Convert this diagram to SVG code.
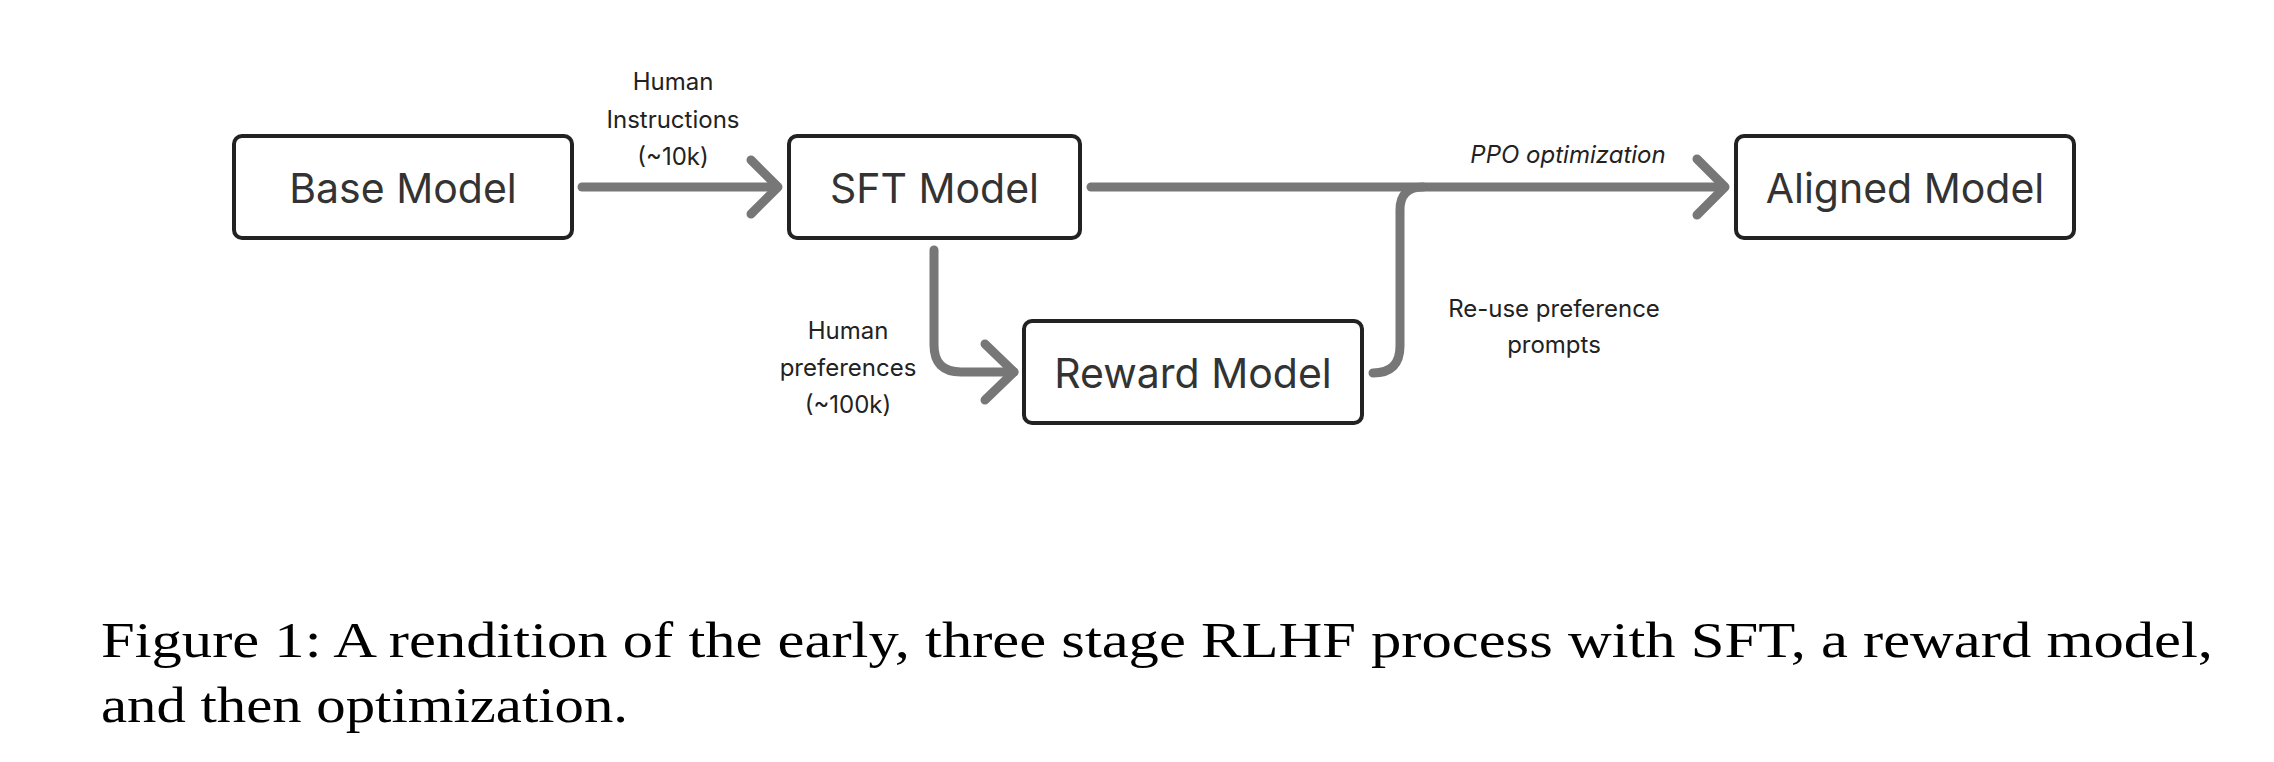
<svg xmlns="http://www.w3.org/2000/svg" width="2274" height="762" viewBox="0 0 2274 762">
<style>
.box{fill:#fff;stroke:#222;stroke-width:4}
.nt{font-family:Inter,"Noto Sans","Liberation Sans",sans-serif;font-size:41px;fill:#333;text-anchor:middle}
.lb{font-family:Inter,"Noto Sans","Liberation Sans",sans-serif;font-size:24px;fill:#222;text-anchor:middle}
.it{font-style:italic}
.cn{fill:none;stroke:#777;stroke-width:9;stroke-linecap:round;stroke-linejoin:round}
.cap{font-family:"Liberation Serif","DejaVu Serif",serif;font-size:51px;fill:#000}
</style>
<rect width="2274" height="762" fill="#fff"/>
<g id="connectors">
<path class="cn" d="M582,187 H777"/>
<path class="cn" d="M751,160 L778,187 L751,214"/>
<path class="cn" d="M1091,187 H1724"/>
<path class="cn" d="M1697,159 L1725,187 L1697,215"/>
<path class="cn" d="M934,250 V345 Q934,372 961,372 H1014"/>
<path class="cn" d="M985,344 L1014,372 L985,400"/>
<path class="cn" d="M1373,373 Q1400,373 1400,346 V210 Q1400,187 1423,187"/>
</g>
<g id="labels">
<text class="lb" x="673" y="90">Human</text>
<text class="lb" x="673" y="128">Instructions</text>
<text class="lb" x="673" y="165">(~10k)</text>
<text class="lb" x="848" y="339">Human</text>
<text class="lb" x="848" y="376">preferences</text>
<text class="lb" x="848" y="413">(~100k)</text>
<text class="lb it" x="1568" y="163">PPO optimization</text>
<text class="lb" x="1554" y="317">Re-use preference</text>
<text class="lb" x="1554" y="353">prompts</text>
</g>
<g id="base-model">
<rect class="box" x="234" y="136" width="338" height="102" rx="8"/>
<text class="nt" x="403" y="203">Base Model</text>
</g>
<g id="sft-model">
<rect class="box" x="789" y="136" width="291" height="102" rx="8"/>
<text class="nt" x="934.5" y="203">SFT Model</text>
</g>
<g id="aligned-model">
<rect class="box" x="1736" y="136" width="338" height="102" rx="8"/>
<text class="nt" x="1905" y="203">Aligned Model</text>
</g>
<g id="reward-model">
<rect class="box" x="1024" y="321" width="338" height="102" rx="8"/>
<text class="nt" x="1193" y="388">Reward Model</text>
</g>
<g id="caption">
<text class="cap" x="101" y="657" textLength="2112" lengthAdjust="spacingAndGlyphs">Figure 1: A rendition of the early, three stage RLHF process with SFT, a reward model,</text>
<text class="cap" x="101" y="722" textLength="527" lengthAdjust="spacingAndGlyphs">and then optimization.</text>
</g>
</svg>
